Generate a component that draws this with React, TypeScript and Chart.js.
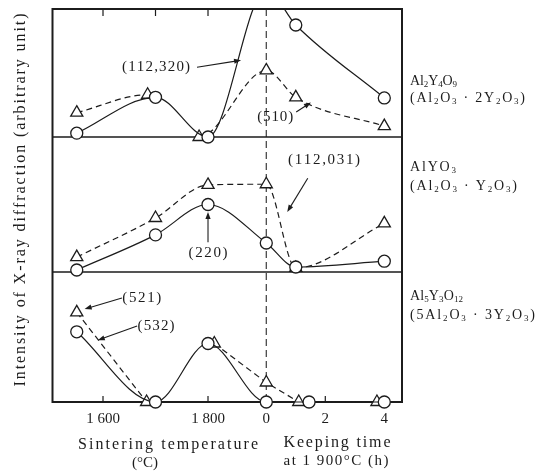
import React, { useEffect, useRef } from 'react';
import { Chart, registerables } from 'chart.js';

Chart.register(...registerables);

// ---------- data ----------
// x values >= 1000 are sintering temperatures (°C); smaller values are keeping time at 1 900 °C (h)
const tempTickValues = [1600, 1800];
const tempTickLabels = ['1 600', '1 800'];
const timeTickValues = [0, 2, 4];
const timeTickLabels = ['0', '2', '4'];
const topTickValues = [1600, 1700, 1800];
const bottomTickValues = [1600, 1700, 1800, 2, 4];

// Panel 1 : Al2Y4O9
const p1CircleX = [1550, 1700, 1800, 0, 1, 4];
const p1CircleY = [0.3, 3.1, 0, 11.5, 8.75, 3.05]; // (112,320)
const p1TriangleX = [1550, 1685, 1783, 0, 1, 4];
const p1TriangleY = [1.9, 3.3, 0, 5.2, 3.1, 0.85]; // (510)

// Panel 2 : AlYO3
const p2CircleX = [1550, 1700, 1800, 0, 1, 4];
const p2CircleY = [0.15, 2.75, 5.0, 2.15, 0.37, 0.8]; // (220)
const p2TriangleX = [1550, 1700, 1800, 0, 1, 4];
const p2TriangleY = [1.1, 4.0, 6.45, 6.5, 0.3, 3.6]; // (112,031)

// Panel 3 : Al5Y3O12
const p3CircleX = [1550, 1700, 1800, 0, 1.45, 4];
const p3CircleY = [5.4, 0, 4.5, 0, 0, 0]; // (532)
const p3TriangleX = [1550, 1683, 1812, 0, 1.1, 3.75];
const p3TriangleY = [6.9, 0, 4.5, 1.5, 0, 0]; // (521)

const reflectionLabels = ['(112,320)', '(510)', '(220)', '(112,031)', '(532)', '(521)'];
const phaseLabels = [
  ['Al_{2}Y_{4}O_{9}', '(Al_{2}O_{3} · 2Y_{2}O_{3})'],
  ['AlYO_{3}', '(Al_{2}O_{3} · Y_{2}O_{3})'],
  ['Al_{5}Y_{3}O_{12}', '(5Al_{2}O_{3} · 3Y_{2}O_{3})'],
];
const yTitle = 'Intensity of X-ray diffraction (arbitrary unit)';
const xTitleLeft = ['Sintering temperature', '(°C)'];
const xTitleRight = ['Keeping time', 'at 1 900°C (h)'];

// ---------- broken axis mapping ----------
const HOUR_ORIGIN = 1911;
const HOUR_SPAN = 56.2;
const toAxis = (v: number) => (v >= 1000 ? v : HOUR_ORIGIN + v * HOUR_SPAN);

const INK = '#1c1c1c';
const FONT = '"Liberation Serif", "Times New Roman", Times, serif';

type Ch = { c: string; sub: boolean };
function parseRich(s: string): Ch[] {
  const out: Ch[] = [];
  const re = /_\{([^}]*)\}/g;
  let last = 0;
  let m: RegExpExecArray | null;
  while ((m = re.exec(s))) {
    for (const c of s.slice(last, m.index)) out.push({ c, sub: false });
    for (const c of m[1]) out.push({ c, sub: true });
    last = re.lastIndex;
  }
  for (const c of s.slice(last)) out.push({ c, sub: false });
  return out;
}

function drawText(
  ctx: CanvasRenderingContext2D,
  s: string,
  x: number,
  y: number,
  size: number,
  width: number | null,
  align: 'left' | 'center' = 'center',
  rotate = 0
) {
  const chars = parseRich(s);
  const subSize = Math.round(size * 0.62);
  const fontFor = (sub: boolean) => `${sub ? subSize : size}px ${FONT}`;
  const widths = chars.map((ch) => {
    ctx.font = fontFor(ch.sub);
    return ctx.measureText(ch.c).width;
  });
  const natural = widths.reduce((a, b) => a + b, 0);
  const gap = width && chars.length > 1 ? (width - natural) / (chars.length - 1) : 0;
  const total = natural + gap * (chars.length - 1);
  ctx.save();
  ctx.translate(x, y);
  if (rotate) ctx.rotate(rotate);
  ctx.fillStyle = INK;
  ctx.textAlign = 'left';
  ctx.textBaseline = 'middle';
  let cx = align === 'center' ? -total / 2 : 0;
  chars.forEach((ch, i) => {
    ctx.font = fontFor(ch.sub);
    ctx.fillText(ch.c, cx, ch.sub ? size * 0.28 : 0);
    cx += widths[i] + gap;
  });
  ctx.restore();
}

function arrow(ctx: CanvasRenderingContext2D, x0: number, y0: number, x1: number, y1: number) {
  const a = Math.atan2(y1 - y0, x1 - x0);
  const L = 7;
  const W = 2.6;
  ctx.save();
  ctx.strokeStyle = INK;
  ctx.fillStyle = INK;
  ctx.lineWidth = 1.1;
  ctx.setLineDash([]);
  ctx.beginPath();
  ctx.moveTo(x0, y0);
  ctx.lineTo(x1 - Math.cos(a) * L * 0.8, y1 - Math.sin(a) * L * 0.8);
  ctx.stroke();
  ctx.beginPath();
  ctx.moveTo(x1, y1);
  ctx.lineTo(x1 - Math.cos(a) * L - Math.sin(a) * W, y1 - Math.sin(a) * L + Math.cos(a) * W);
  ctx.lineTo(x1 - Math.cos(a) * L + Math.sin(a) * W, y1 - Math.sin(a) * L - Math.cos(a) * W);
  ctx.closePath();
  ctx.fill();
  ctx.restore();
}

// annotation layout in data coordinates: [panel axis, text x, text y, text width, arrow from x,y, arrow to x,y]
const annotationLayout: [string, number, number, number, number, number, number, number][] = [
  ['yTop', 1701, 5.45, 68, 1779, 5.45, 1863, 6.0],
  ['yTop', 1928, 1.55, 36, 1968, 1.95, 1996, 2.7],
  ['yMid', 1800, 1.4, 39, 1800, 2.2, 1800, 4.45],
  ['yMid', 2021, 8.3, 72, 1990, 6.95, 1951, 4.45],
  ['yBot', 1701, 5.85, 37, 1665, 5.85, 1590, 4.75],
  ['yBot', 1674, 8.0, 39, 1636, 8.0, 1565, 7.15],
];

const decorPlugin = {
  id: 'decor',
  beforeDatasetsDraw(chart: any) {
    const { ctx, chartArea: ca, scales } = chart;
    const x = scales.x;
    const d1 = scales.yTop.bottom;
    const d2 = scales.yMid.bottom;
    ctx.save();
    // dashed break line at 0 h
    const x0 = x.getPixelForValue(toAxis(0));
    ctx.strokeStyle = '#3a3a3a';
    ctx.lineWidth = 1.2;
    ctx.setLineDash([7, 4]);
    ctx.beginPath();
    ctx.moveTo(x0, ca.top);
    ctx.lineTo(x0, ca.bottom);
    ctx.stroke();
    ctx.setLineDash([]);
    // panel dividers
    ctx.strokeStyle = INK;
    ctx.lineWidth = 1.5;
    ctx.beginPath();
    ctx.moveTo(ca.left, d1);
    ctx.lineTo(ca.right, d1);
    ctx.moveTo(ca.left, d2);
    ctx.lineTo(ca.right, d2);
    ctx.stroke();
    // frame
    ctx.lineWidth = 2;
    ctx.strokeRect(ca.left, ca.top, ca.right - ca.left, ca.bottom - ca.top);
    // inner ticks
    ctx.lineWidth = 1.2;
    ctx.beginPath();
    topTickValues.forEach((v) => {
      const px = x.getPixelForValue(toAxis(v));
      ctx.moveTo(px, ca.top);
      ctx.lineTo(px, ca.top + 7);
    });
    bottomTickValues.forEach((v) => {
      const px = x.getPixelForValue(toAxis(v));
      ctx.moveTo(px, ca.bottom);
      ctx.lineTo(px, ca.bottom - 6);
    });
    ctx.stroke();
    ctx.restore();
  },
  afterDatasetsDraw(chart: any) {
    const { ctx, scales } = chart;
    const x = scales.x;
    annotationLayout.forEach((a, i) => {
      const ys = scales[a[0]];
      drawText(ctx, reflectionLabels[i], x.getPixelForValue(a[1]), ys.getPixelForValue(a[2]), 15, a[3]);
      arrow(
        ctx,
        x.getPixelForValue(a[4]),
        ys.getPixelForValue(a[5]),
        x.getPixelForValue(a[6]),
        ys.getPixelForValue(a[7])
      );
    });
  },
  afterDraw(chart: any) {
    const { ctx, chartArea: ca, scales } = chart;
    // y title
    drawText(ctx, yTitle, 21, 200, 16, 373, 'center', -Math.PI / 2);
    // x titles
    drawText(ctx, xTitleLeft[0], 168, 445, 16, 180);
    drawText(ctx, xTitleLeft[1], 145, 463, 15, 26);
    drawText(ctx, xTitleRight[0], 337, 443, 16, 107);
    drawText(ctx, xTitleRight[1], 336, 461, 15, 105);
    // phase labels
    const lx = ca.right + 8;
    const panels = [scales.yTop, scales.yMid, scales.yBot];
    const offsets = [[72, 89], [30, 49], [24, 43]];
    const widths = [[47, 115], [46, 107], [53, 125]];
    panels.forEach((p, i) => {
      drawText(ctx, phaseLabels[i][0], lx, p.top + offsets[i][0], 14, widths[i][0], 'left');
      drawText(ctx, phaseLabels[i][1], lx, p.top + offsets[i][1], 14, widths[i][1], 'left');
    });
  },
};

function series(
  xs: number[],
  ys: number[],
  axis: string,
  marker: 'circle' | 'triangle',
  dashed: boolean,
  extra: Record<string, unknown> = {}
) {
  return {
    data: xs.map((v, i) => ({ x: toAxis(v), y: ys[i] })),
    yAxisID: axis,
    borderColor: INK,
    borderWidth: 1.2,
    borderDash: dashed ? [6, 4] : [],
    pointStyle: marker,
    pointRadius: marker === 'circle' ? 6 : 7,
    pointBackgroundColor: '#ffffff',
    pointBorderColor: INK,
    pointBorderWidth: 1.3,
    cubicInterpolationMode: 'monotone',
    fill: false,
    clip: false,
    ...extra,
  };
}

const hideSegment = (idx: number) => ({
  segment: { borderColor: (c: any) => (c.p0DataIndex === idx ? 'rgba(0,0,0,0)' : INK) },
});

export default function App() {
  const ref = useRef<HTMLCanvasElement | null>(null);
  useEffect(() => {
    if (!ref.current) return;
    const yAxis = (w: number) => ({
      type: 'linear',
      min: 0,
      max: 10,
      position: 'left',
      stack: 'panels',
      stackWeight: w,
      offset: false,
      display: true,
      ticks: { display: false },
      grid: { display: false, drawTicks: false },
      border: { display: false },
      afterFit: (s: any) => {
        s.width = 0;
      },
    });
    const tickValues = [...tempTickValues, ...timeTickValues].map(toAxis);
    const tickLabels = [...tempTickLabels, ...timeTickLabels];
    const chart = new Chart(ref.current, {
      type: 'line',
      data: {
        datasets: [
          series(p1CircleX, p1CircleY, 'yTop', 'circle', false, { clip: { left: 20, top: 0, right: 20, bottom: 20 } }),
          series(p1TriangleX, p1TriangleY, 'yTop', 'triangle', true, hideSegment(1)),
          series(p2CircleX, p2CircleY, 'yMid', 'circle', false),
          series(p2TriangleX, p2TriangleY, 'yMid', 'triangle', true),
          series(p3CircleX, p3CircleY, 'yBot', 'circle', false),
          series(p3TriangleX, p3TriangleY, 'yBot', 'triangle', true, { tension: 0, cubicInterpolationMode: 'default', ...hideSegment(1) }),
        ] as any,
      },
      options: {
        responsive: false,
        animation: false,
        devicePixelRatio: 1,
        layout: { padding: { left: 52.5, right: 142, top: 9, bottom: 0 } },
        plugins: { legend: { display: false }, tooltip: { enabled: false }, title: { display: false } },
        scales: {
          x: {
            type: 'linear',
            min: 1503.8,
            max: 2169.5,
            position: 'bottom',
            afterBuildTicks: (s: any) => {
              s.ticks = tickValues.map((value) => ({ value }));
            },
            ticks: {
              autoSkip: false,
              maxRotation: 0,
              padding: 8,
              color: INK,
              font: { family: FONT, size: 15 },
              callback: (_v: any, i: number) => tickLabels[i],
            },
            grid: { display: false, drawTicks: false },
            border: { display: false },
            afterFit: (s: any) => {
              s.height = 74;
            },
          },
          yBot: yAxis(130),
          yMid: yAxis(135),
          yTop: yAxis(128),
        } as any,
      },
      plugins: [decorPlugin],
    });
    return () => chart.destroy();
  }, []);
  return (
    <div style={{ position: 'fixed', left: 0, top: 0, width: 544, height: 476, background: '#fff' }}>
      <canvas ref={ref} width={544} height={476} />
    </div>
  );
}
